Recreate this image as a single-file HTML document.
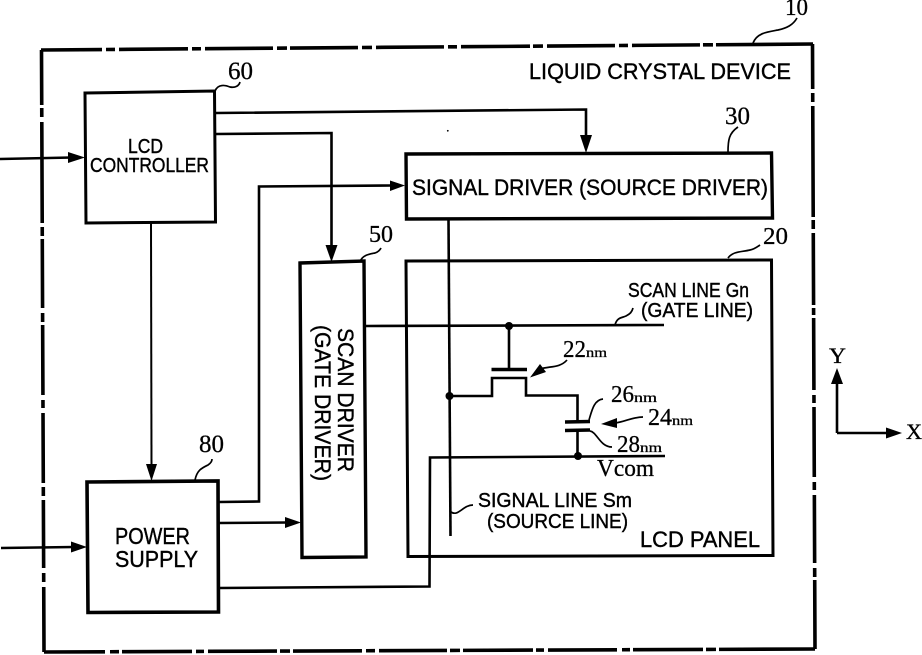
<!DOCTYPE html>
<html>
<head>
<meta charset="utf-8">
<style>
html,body{margin:0;padding:0;background:#fff;width:922px;height:655px;overflow:hidden}
svg{display:block}
text{font-family:"Liberation Sans",sans-serif;fill:#000;stroke:#000;stroke-width:.4px}
.s{font-family:"Liberation Serif",serif;stroke-width:.3px}
</style>
</head>
<body>
<svg width="922" height="655" viewBox="0 0 922 655" xmlns="http://www.w3.org/2000/svg">
<rect width="922" height="655" fill="#fff"/>

<!-- outer dash-dot frame -->
<g stroke="#000" stroke-width="3.6" fill="none">
<line x1="41" y1="50" x2="813" y2="44" stroke-dasharray="61 4 9 4 69 4 9 4 68 4 10 3 68 4 10 4 68 4 9 4 69 3 10 4 68 4 9 4 68 3 10 3 100"/>
<line x1="41.5" y1="50" x2="44" y2="652" stroke-dasharray="55 3 9 5 101 4 9 3 69 5 9 3 70 5 8 5 70 4 9 4 68 5 9 5 70"/>
<line x1="812.5" y1="44" x2="815" y2="649" stroke-dasharray="45 4 9 4 111 3 9 4 72 3 7 3 72 5 8 4 70 5 8 5 68 5 9 3 70"/>
<line x1="44" y1="652" x2="815" y2="649" stroke-dasharray="61 5 9 3 70 4 8 4 69 3 10 3 69 4 9 4 68 3 10 3 70 3 8 4 69 5 8 3 70 3 10 3 100"/>
</g>

<!-- blocks -->
<g stroke="#000" fill="none" stroke-linejoin="miter">
<polygon points="85,93 214.5,91 215.5,222 86,223" stroke-width="3"/>
<polygon points="87,482 218,481 218.5,612 88,612.5" stroke-width="3.6"/>
<polygon points="406,154 771.5,153 772.5,218 406.5,219" stroke-width="3.4"/>
<polygon points="406,261 771.5,260 773,555.5 408,556.5" stroke-width="3"/>
<polygon points="300,263 364,261 366,557 302,557.5" stroke-width="3.4"/>
</g>

<!-- connectors -->
<g stroke="#000" fill="none" stroke-width="2.6">
<path d="M216 113 L586 109.5 L586 138"/>
<path d="M216 134 L331.5 133 L331.5 248"/>
<path d="M0 159 L72 157.5"/>
<path d="M151 222 L151.5 466" stroke-width="2"/>
<path d="M219 502 L259 501.5 L259 186.5 L392 185.5"/>
<path d="M219 523 L288 522.5"/>
<path d="M219 588 L429.5 586.5 L430 457.5 L665 456"/>
<path d="M1 548 L74 547"/>
<path d="M366 326 L664 325"/>
<path d="M448.5 219 L450.5 536"/>
<path d="M509 326 L509 369"/>
<path d="M449.5 396 L492 396 L492 378 L526 378 L526 395.5 L577.5 395.5 L577.5 421"/>
<path d="M577.5 430 L577.5 456"/>
<path d="M837 433 L837 382 M837 433 L890 433"/>
</g>
<g stroke="#000" fill="none" stroke-width="3.4">
<path d="M491.5 369.5 L527 369.5"/>
<path d="M565 422 L590 421.5"/>
<path d="M565 430.5 L590 430"/>
</g>

<!-- arrowheads -->
<g fill="#000" stroke="none">
<polygon points="586,153 580,135 592,135"/>
<polygon points="331.5,262 325.5,245 337.5,245"/>
<polygon points="85,157.5 68,152 68,163"/>
<polygon points="151.5,481 146,464 157,464"/>
<polygon points="405,185.5 390,180.5 390,191"/>
<polygon points="301,522.5 285,517 285,528"/>
<polygon points="87,547 71,541.5 71,552.5"/>
<polygon points="837,368 831,384 843,384"/>
<polygon points="902,433 886,427.5 886,438.5"/>
<polygon points="530,377.5 540,364 546,372"/>
<polygon points="601,424 617,418 617,428"/>
<circle cx="509" cy="326" r="4"/>
<circle cx="449.5" cy="396" r="4"/>
<circle cx="578" cy="456" r="4"/>
<circle cx="447.8" cy="130.8" r="0.9"/>
</g>

<!-- leaders -->
<g stroke="#000" fill="none" stroke-width="1.7">
<path d="M215 91 C218 84,225 85,230 87 C235 88,239 86,240 82"/>
<path d="M195 480 C197 470,202 468,208 465 C211 463,212 461,212 459"/>
<path d="M753 43 C757 33,767 32,778 30 C787 28,793 25,797 18"/>
<path d="M728 152 C728 140,729 133,738 127"/>
<path d="M360 262 C362 255,370 254,375 253 C378 252,380 250,381 248"/>
<path d="M728 258 C733 251,742 252,750 250 C755 249,757 247,760 245"/>
<path d="M615 325 C617 317,622 318,626 316 C630 314,632 312,633 308"/>
<path d="M451 512 C458 517,463 505,473 505"/>
<path d="M540 369 C550 366,560 368,567 360"/>
<path d="M589 420 C592 410,594 400,603 399"/>
<path d="M590 431 C597 432,600 447,612 447"/>
<path d="M615 423 C625 422,632 417,643 417"/>
</g>

<!-- labels -->
<text x="529" y="79" font-size="22" textLength="262" lengthAdjust="spacingAndGlyphs">LIQUID CRYSTAL DEVICE</text>
<text x="128" y="153" font-size="20" textLength="35" lengthAdjust="spacingAndGlyphs">LCD</text>
<text x="90" y="172" font-size="20" textLength="119" lengthAdjust="spacingAndGlyphs">CONTROLLER</text>
<text x="115" y="544" font-size="23" textLength="75" lengthAdjust="spacingAndGlyphs">POWER</text>
<text x="115" y="567" font-size="23" textLength="83" lengthAdjust="spacingAndGlyphs">SUPPLY</text>
<text x="412" y="195" font-size="22" textLength="356" lengthAdjust="spacingAndGlyphs">SIGNAL DRIVER (SOURCE DRIVER)</text>
<text transform="translate(338,328) rotate(90)" font-size="22" textLength="144" lengthAdjust="spacingAndGlyphs">SCAN DRIVER</text>
<text transform="translate(315,325) rotate(90)" font-size="22" textLength="156" lengthAdjust="spacingAndGlyphs">(GATE DRIVER)</text>
<text x="628" y="297" font-size="20" textLength="121" lengthAdjust="spacingAndGlyphs">SCAN LINE Gn</text>
<text x="641" y="317" font-size="20" textLength="112" lengthAdjust="spacingAndGlyphs">(GATE LINE)</text>
<text x="478" y="507" font-size="20" textLength="154" lengthAdjust="spacingAndGlyphs">SIGNAL LINE Sm</text>
<text x="487" y="528" font-size="20" textLength="141" lengthAdjust="spacingAndGlyphs">(SOURCE LINE)</text>
<text x="640" y="547" font-size="22" textLength="120" lengthAdjust="spacingAndGlyphs">LCD PANEL</text>

<g class="s">
<text class="s" x="785" y="15" font-size="24" textLength="23" lengthAdjust="spacingAndGlyphs">10</text>
<text class="s" x="228" y="79" font-size="25" textLength="25" lengthAdjust="spacingAndGlyphs">60</text>
<text class="s" x="199" y="452" font-size="25" textLength="25" lengthAdjust="spacingAndGlyphs">80</text>
<text class="s" x="725" y="124" font-size="25" textLength="25" lengthAdjust="spacingAndGlyphs">30</text>
<text class="s" x="369" y="242" font-size="24" textLength="24" lengthAdjust="spacingAndGlyphs">50</text>
<text class="s" x="763" y="244" font-size="24" textLength="25" lengthAdjust="spacingAndGlyphs">20</text>
<text class="s" x="563" y="357" font-size="24" textLength="23" lengthAdjust="spacingAndGlyphs">22</text>
<text class="s" x="586" y="357" font-size="14" textLength="21" lengthAdjust="spacingAndGlyphs">nm</text>
<text class="s" x="611" y="402" font-size="24" textLength="23" lengthAdjust="spacingAndGlyphs">26</text>
<text class="s" x="634" y="402" font-size="14" textLength="23" lengthAdjust="spacingAndGlyphs">nm</text>
<text class="s" x="648" y="425" font-size="24" textLength="24" lengthAdjust="spacingAndGlyphs">24</text>
<text class="s" x="672" y="425" font-size="14" textLength="21" lengthAdjust="spacingAndGlyphs">nm</text>
<text class="s" x="617" y="452" font-size="24" textLength="23" lengthAdjust="spacingAndGlyphs">28</text>
<text class="s" x="640" y="452" font-size="14" textLength="22" lengthAdjust="spacingAndGlyphs">nm</text>
<text class="s" x="597" y="476" font-size="24" textLength="57" lengthAdjust="spacingAndGlyphs">Vcom</text>
<text class="s" x="829" y="363" font-size="22" textLength="17" lengthAdjust="spacingAndGlyphs">Y</text>
<text class="s" x="906" y="439" font-size="22" textLength="16" lengthAdjust="spacingAndGlyphs">X</text>
</g>
</svg>
</body>
</html>
